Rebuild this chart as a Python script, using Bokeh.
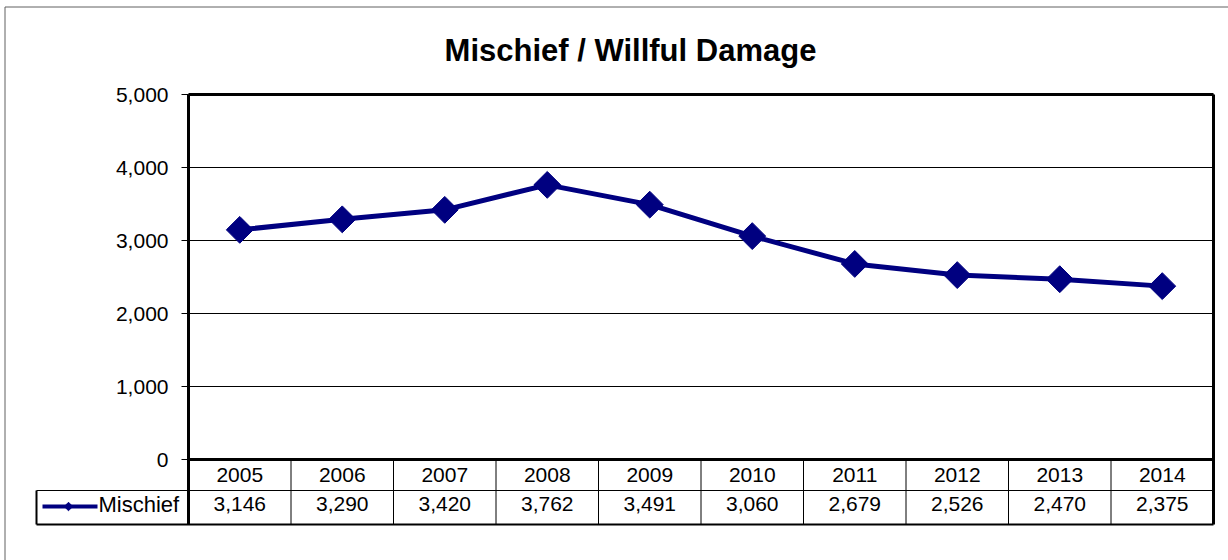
import math
from bokeh.plotting import figure
from bokeh.models import (ColumnDataSource, FixedTicker, NumeralTickFormatter, Range1d,
                          LinearAxis, Grid)
from bokeh.core.properties import value
from bokeh.embed import file_html
from bokeh.resources import INLINE

# ---------------- data ----------------
years = ["2005", "2006", "2007", "2008", "2009", "2010", "2011", "2012", "2013", "2014"]
mischief = [3146, 3290, 3420, 3762, 3491, 3060, 2679, 2526, 2470, 2375]
y_ticks = [0, 1000, 2000, 3000, 4000, 5000]
series_name = "Mischief"
chart_title = "Mischief / Willful Damage"

FONT = "Liberation Sans"
NAVY = "#000080"
n = len(years)
W, H = 1228, 560

# ---------------- geometry (page pixels -> data units) ----------------
PL, PR, PT, PB = 188, 1213, 94, 459       # plot-area edges
ROW1, ROW2 = 490, 524                      # data-table row bottoms
LEG_L = 36                                 # left edge of the legend cell
PX_PER_CAT = (PR - PL) / n
PX_PER_UNIT = (PB - PT) / y_ticks[-1]

def X(px):
    return (px - PL) / PX_PER_CAT

def Y(py):
    return (PB - py) / PX_PER_UNIT

p = figure(width=W, height=H, output_backend="svg", toolbar_location=None,
           x_range=Range1d(X(0), X(W)), y_range=Range1d(Y(H), Y(0)),
           x_axis_location=None, y_axis_location=None,
           min_border_left=0, min_border_right=0, min_border_top=0, min_border_bottom=0)
p.outline_line_color = None
p.background_fill_color = "white"
p.border_fill_color = "white"
# remove the default grids (gridlines are drawn only across the plot area below)
p.renderers = [r for r in p.renderers if not isinstance(r, Grid)]
p.center = [r for r in p.center if not isinstance(r, Grid)]

# outer chart-area border (left and top edges visible)
p.segment(x0=[X(4.5), X(4.5)], y0=[Y(6.5), Y(6.5)], x1=[X(4.5), X(W)], y1=[Y(H), Y(6.5)],
          line_color="#606060", line_width=1)

# title
p.text(x=[X(630)], y=[Y(50)], text=[chart_title], text_font=value(FONT),
       text_font_size="31px", text_font_style="bold", text_color="black",
       text_align="center", text_baseline="middle")

# horizontal gridlines at the y ticks
p.segment(x0=[0] * len(y_ticks), y0=y_ticks, x1=[n] * len(y_ticks), y1=y_ticks,
          line_color="black", line_width=1)

# y axis drawn at x = 0 (left edge of plot area)
ax = LinearAxis(fixed_location=0)
ax.bounds = (Y(ROW2), y_ticks[-1])
ax.ticker = FixedTicker(ticks=y_ticks)
ax.formatter = NumeralTickFormatter(format="0,0")
ax.axis_line_color = "black"
ax.axis_line_width = 3
ax.major_tick_line_color = "black"
ax.major_tick_line_width = 1
ax.major_tick_out = 7
ax.major_tick_in = 0
ax.minor_tick_line_color = None
ax.major_label_text_font = FONT
ax.major_label_text_font_size = "21px"
ax.major_label_text_color = "black"
ax.major_label_standoff = 13
p.add_layout(ax, "left")

# plot-area frame: top, bottom (zero line) and right edge
p.segment(x0=[0, 0], y0=[y_ticks[-1], 0], x1=[n, n], y1=[y_ticks[-1], 0],
          line_color="black", line_width=3)
p.segment(x0=[n], y0=[y_ticks[-1]], x1=[n], y1=[Y(ROW2)], line_color="black", line_width=3)

# ---------------- series ----------------
xs = [i + 0.5 for i in range(n)]
src = ColumnDataSource(dict(x=xs, y=mischief, year=years,
                            label=[f"{v:,}" for v in mischief]))
p.line("x", "y", source=src, line_color=NAVY, line_width=5)
p.scatter("x", "y", source=src, marker="square", angle=math.pi / 4, size=19,
          fill_color=NAVY, line_color=NAVY)

# ---------------- data table ----------------
p.segment(x0=list(range(1, n)), y0=[0] * (n - 1), x1=list(range(1, n)),
          y1=[Y(ROW2)] * (n - 1), line_color="black", line_width=1)
p.segment(x0=[X(LEG_L)], y0=[Y(ROW1)], x1=[n], y1=[Y(ROW1)], line_color="black", line_width=1)
p.segment(x0=[X(LEG_L), X(LEG_L)], y0=[Y(ROW2), Y(ROW1)], x1=[n, X(LEG_L)],
          y1=[Y(ROW2), Y(ROW2)], line_color="black", line_width=2)

p.text(x="x", y=Y(474.5), text="year", source=src, text_font=value(FONT),
       text_font_size="21px", text_color="black", text_align="center",
       text_baseline="middle")
p.text(x="x", y=Y(503), text="label", source=src, text_font=value(FONT),
       text_font_size="21px", text_color="black", text_align="center",
       text_baseline="middle")

# legend key in the first column of the table
leg = ColumnDataSource(dict(x0=[X(42)], x1=[X(97)], xm=[X(68)], y=[Y(506)],
                            tx=[X(98)], ty=[Y(504)], name=[series_name]))
p.segment(x0="x0", y0="y", x1="x1", y1="y", source=leg, line_color=NAVY, line_width=4)
p.scatter(x="xm", y="y", source=leg, marker="square", angle=math.pi / 4, size=6,
          fill_color=NAVY, line_color=NAVY)
p.text(x="tx", y="ty", text="name", source=leg, text_font=value(FONT),
       text_font_size="22px", text_color="black", text_align="left",
       text_baseline="middle")

open("out.html", "w").write(file_html(p, INLINE))
